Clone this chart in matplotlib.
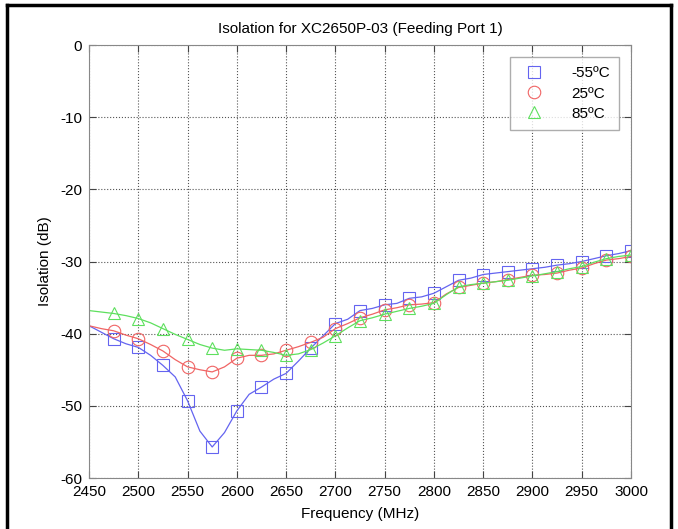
import numpy as np
import matplotlib.pyplot as plt
from matplotlib.lines import Line2D

plt.rcParams['font.family'] = ['Liberation Sans', 'DejaVu Sans']
plt.rcParams['axes.unicode_minus'] = False

# frequency grid (MHz), 12.5 MHz step; markers every 25 MHz from 2475
freq = [2450 + 12.5 * i for i in range(45)]

iso_m55 = [-38.9, -39.8, -40.7, -41.4, -41.9, -43.0, -44.4, -46.0, -49.3, -53.5,
           -55.7, -53.7, -50.7, -48.4, -47.4, -46.3, -45.5, -43.8, -42.0, -40.3,
           -38.6, -38.0, -36.8, -36.5, -36.0, -35.8, -35.1, -34.9, -34.4, -33.5,
           -32.6, -32.3, -31.8, -31.6, -31.4, -31.2, -31.0, -30.8, -30.5, -30.3,
           -30.0, -29.6, -29.2, -28.9, -28.5]
iso_25 = [-38.9, -39.3, -39.6, -40.2, -40.7, -41.5, -42.4, -43.6, -44.6, -45.0,
          -45.3, -44.6, -43.4, -43.0, -43.0, -42.8, -42.3, -41.8, -41.2, -40.5,
          -39.3, -38.6, -37.8, -37.3, -36.7, -36.4, -36.0, -35.9, -35.7, -34.5,
          -33.6, -33.3, -33.0, -32.8, -32.5, -32.2, -31.9, -31.8, -31.6, -31.2,
          -30.9, -30.3, -29.8, -29.6, -29.3]
iso_85 = [-36.8, -37.0, -37.2, -37.5, -37.9, -38.5, -39.3, -40.1, -40.8, -41.5,
          -42.0, -42.3, -42.1, -42.2, -42.3, -42.6, -43.0, -42.8, -42.2, -41.3,
          -40.3, -39.2, -38.2, -37.8, -37.3, -36.9, -36.5, -36.2, -35.8, -34.6,
          -33.5, -33.2, -33.0, -32.8, -32.6, -32.3, -32.0, -31.7, -31.4, -31.0,
          -30.7, -30.1, -29.6, -29.3, -29.1]

labels = ['-55ºC', '25ºC', '85ºC']
colors = ['#6464f0', '#f06464', '#5ee05e']
markers = ['s', 'o', '^']

fig = plt.figure(figsize=(6.78, 5.29), dpi=100)
ax = fig.add_axes([0.1313, 0.0964, 0.7994, 0.8185])

handles = []
for y, lab, c, m in zip([iso_m55, iso_25, iso_85], labels, colors, markers):
    ax.plot(freq, y, color=c, lw=0.9, marker=m, markevery=slice(2, None, 2),
            ms=9, mfc='none', mec=c, mew=0.8)
    handles.append(Line2D([], [], ls='none', marker=m, ms=9, mfc='none', mec=c, mew=0.8, label=lab))

ax.set_xlim(2450, 3000)
ax.set_ylim(-60, 0)
ax.set_xticks(np.arange(2450, 3001, 50))
ax.set_yticks(np.arange(-60, 1, 10))
ax.grid(True, ls=':', color='#555555', lw=0.8)
ax.tick_params(direction='in', top=True, right=True, length=5, labelsize=11, color='#444444')
ax.tick_params(axis='x', pad=5)
ax.tick_params(axis='y', pad=5)
for s in ax.spines.values():
    s.set_color('#888888')

ax.set_title('Isolation for XC2650P-03 (Feeding Port 1)', fontsize=11, pad=9)
ax.set_xlabel('Frequency (MHz)', fontsize=11, labelpad=6)
ax.set_ylabel('Isolation (dB)', fontsize=11, labelpad=6)

leg = ax.legend(handles=handles, loc='upper right', fontsize=11, frameon=True,
                fancybox=False, edgecolor='#999999', borderpad=0.6, labelspacing=0.4,
                handletextpad=1.4, borderaxespad=0.8)
leg.get_frame().set_linewidth(1.0)

# black frame around the figure (left, top, right)
fig.add_artist(Line2D([7/678, 7/678], [0, 1 - 5/529], color='black', lw=2.5, transform=fig.transFigure))
fig.add_artist(Line2D([7/678, 671/678], [1 - 5/529, 1 - 5/529], color='black', lw=2.5, transform=fig.transFigure))
fig.add_artist(Line2D([671/678, 671/678], [0, 1 - 5/529], color='black', lw=2.5, transform=fig.transFigure))

fig.savefig('out.png', dpi=100)
